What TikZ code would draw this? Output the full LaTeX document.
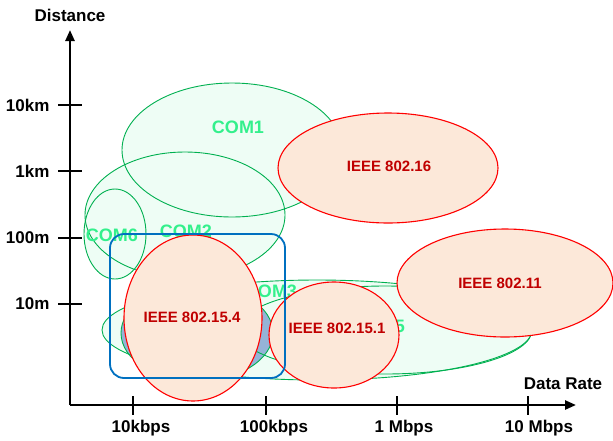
\documentclass[tikz,border=0pt]{standalone}
\usepackage{fontspec}
\setmainfont{Liberation Sans}
\usetikzlibrary{arrows.meta}

\definecolor{comline}{RGB}{0,176,80}
\definecolor{comfill}{RGB}{238,253,245}
\definecolor{comtext}{RGB}{51,240,140}
\definecolor{comblue}{RGB}{149,179,215}
\definecolor{ieeeline}{RGB}{255,0,0}
\definecolor{ieeefill}{RGB}{252,232,217}
\definecolor{ieeetext}{RGB}{192,0,0}
\definecolor{boxblue}{RGB}{0,112,192}

\tikzset{
  comedge/.style={draw=comline, line width=0.9pt},
  comlabel/.style={text=comtext, font=\fontsize{18}{20}\selectfont\bfseries},
  ieee/.style={draw=ieeeline, fill=ieeefill, line width=1.1pt},
  ieeelabel/.style={text=ieeetext, font=\fontsize{15}{18}\selectfont\bfseries},
  axislabel/.style={font=\fontsize{17}{20}\selectfont\bfseries},
  axisline/.style={line width=2.4pt, -{Triangle[length=11pt,width=9pt]}},
  ticmark/.style={line width=1.6pt},
}

\begin{document}
\begin{tikzpicture}[x=1pt,y=-1pt]
\useasboundingbox (0,0) rectangle (613,440);

% COM areas (fills first)
\fill[comfill] (232,150) ellipse [x radius=110pt, y radius=67pt];
\fill[comfill] (185,215) ellipse [x radius=100pt, y radius=63pt];
\fill[comfill] (115,234) ellipse [x radius=31pt, y radius=45pt];
\fill[comfill] (317,330) ellipse [x radius=215pt, y radius=50pt];
\fill[comfill] (385,330) ellipse [x radius=147pt, y radius=44pt];
\fill[comblue] (197,333) ellipse [x radius=76pt, y radius=48pt];

% COM outlines
\draw[comedge] (232,150) ellipse [x radius=110pt, y radius=67pt];
\draw[comedge] (185,215) ellipse [x radius=100pt, y radius=63pt];
\draw[comedge] (115,234) ellipse [x radius=31pt, y radius=45pt];
\draw[comedge] (317,330) ellipse [x radius=215pt, y radius=50pt];
\draw[comedge] (385,330) ellipse [x radius=147pt, y radius=44pt];
\draw[comedge] (197,333) ellipse [x radius=76pt, y radius=48pt];

% COM labels
\node[comlabel] (com1) at (238,127) {COM1};
\node[comlabel] (com2) at (186,231) {COM2};
\node[comlabel] (com6) at (112,235) {COM6};
\node[comlabel] (com3) at (271,291) {COM3};
\node[comlabel] (com5) at (379,326) {COM5};

% IEEE areas
\draw[ieee] (388,168) ellipse [x radius=110pt, y radius=55pt];
\node[ieeelabel] (wman) at (389,166) {IEEE 802.16};
\draw[ieee] (505,283) ellipse [x radius=108pt, y radius=54pt];
\node[ieeelabel] (wlan) at (500,283) {IEEE 802.11};
\draw[ieee] (193,318) ellipse [x radius=69pt, y radius=83pt];
\node[ieeelabel] (zigbee) at (192,317) {IEEE 802.15.4};
\draw[ieee] (334,335) ellipse [x radius=65pt, y radius=53pt];
\node[ieeelabel] (bluetooth) at (337,328) {IEEE 802.15.1};

% Blue frame
\draw[boxblue, line width=1.8pt, rounded corners=14pt] (110,234) rectangle (285,378);

% Axes
\coordinate (origin) at (70,405);
\coordinate (ytip) at (70,30);
\coordinate (xtip) at (576,405);
\draw[axisline] (origin) -- (ytip);
\draw[axisline] (origin) -- (xtip);
\node[axislabel] (dist) at (70,15) {Distance};
\node[axislabel] (rate) at (563,384) {Data Rate};

% Distance ticks
\draw[ticmark] (58,105) -- (82,105);
\draw[ticmark] (58,171) -- (82,171);
\draw[ticmark] (58,238) -- (82,238);
\draw[ticmark] (58,304) -- (82,304);
\node[axislabel, anchor=east] (d10km) at (53,105) {10km};
\node[axislabel, anchor=east] (d1km) at (53,171) {1km};
\node[axislabel, anchor=east] (d100m) at (53,238) {100m};
\node[axislabel, anchor=east] (d10m) at (53,304) {10m};

% Rate ticks
\draw[ticmark] (133,396) -- (133,415);
\draw[ticmark] (266,396) -- (266,415);
\draw[ticmark] (397,396) -- (397,415);
\draw[ticmark] (528,396) -- (528,415);
\node[axislabel] (r10k) at (141,428) {10kbps};
\node[axislabel] (r100k) at (274,428) {100kbps};
\node[axislabel] (r1m) at (404,428) {1 Mbps};
\node[axislabel] (r10m) at (539,428) {10 Mbps};
\end{tikzpicture}
\end{document}
